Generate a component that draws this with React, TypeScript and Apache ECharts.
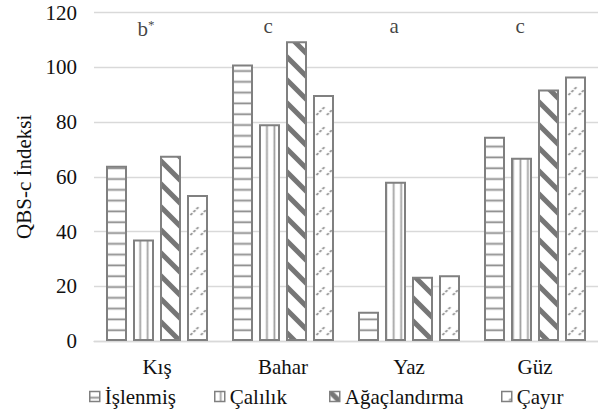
import React, { useEffect, useRef } from 'react';
import * as echarts from 'echarts';

// ---- data ----
const categories = ['Kış', 'Bahar', 'Yaz', 'Güz'];
const seriesNames = ['İşlenmiş', 'Çalılık', 'Ağaçlandırma', 'Çayır'];
const islenmis = [64.0, 101.0, 10.7, 74.6];
const calilik = [37.1, 79.2, 58.2, 66.9];
const agaclandirma = [67.7, 109.5, 23.5, 91.9];
const cayir = [53.3, 89.9, 24.0, 96.6];
const groupLetters = ['b', 'c', 'a', 'c'];
const letterMarks = ['*', '', '', ''];
const letterLevels = [114.0, 115.1, 115.1, 115.1];
const yMin = 0;
const yMax = 120;
const yStep = 20;
const yTitle = 'QBS-c İndeksi';

// ---- layout / style ----
const W = 598;
const H = 411;
const GL = 94;
const GW = 507;
const GT = 12.5;
const GH = 328.5;
const BAR_W = 21;
const BAR_GAP = 6;
const FONT = 'Liberation Serif, Times New Roman, serif';
const TXT = '#111111';
const GRID = '#d9d9d9';
const BORDER = '#808080';
const legendLefts = [89, 214, 329, 501];
const textRich = { t: { fontSize: 21, fontFamily: FONT, color: TXT } };

type Draw = (ctx: CanvasRenderingContext2D, tw: number, th: number) => void;

function tile(tw: number, th: number, draw: Draw) {
  const S = 4;
  const c = document.createElement('canvas');
  c.width = Math.max(1, Math.round(tw * S));
  c.height = Math.max(1, Math.round(th * S));
  const ctx = c.getContext('2d') as CanvasRenderingContext2D;
  ctx.scale(c.width / tw, c.height / th);
  ctx.fillStyle = '#ffffff';
  ctx.fillRect(0, 0, tw, th);
  draw(ctx, tw, th);
  return { image: c.toDataURL(), repeat: 'repeat', imageWidth: tw, imageHeight: th };
}

function mod(a: number, b: number) {
  return ((a % b) + b) % b;
}

function buildPatterns() {
  const baseY = GT + GH;
  const bw = GW / categories.length;
  const groupW = 4 * BAR_W + 3 * BAR_GAP;
  // horizontal lines
  const hTh = 10.8;
  const hOff = mod(baseY, hTh);
  const horiz = tile(4, hTh, (ctx, tw) => {
    ctx.strokeStyle = '#7f7f7f';
    ctx.lineWidth = 1.6;
    for (const y of [hOff - hTh, hOff, hOff + hTh]) {
      ctx.beginPath();
      ctx.moveTo(0, y);
      ctx.lineTo(tw, y);
      ctx.stroke();
    }
  });
  // vertical lines
  const vTw = bw / 17;
  const barLeft = GL + (bw - groupW) / 2 + BAR_W + BAR_GAP;
  const vOff = mod(barLeft + BAR_W / 2 - vTw / 2, vTw);
  const vert = tile(vTw, 4, (ctx, _tw, th) => {
    ctx.strokeStyle = '#9a9a9a';
    ctx.lineWidth = 1.6;
    for (const x of [vOff - vTw, vOff, vOff + vTw]) {
      ctx.beginPath();
      ctx.moveTo(x, 0);
      ctx.lineTo(x, th);
      ctx.stroke();
    }
  });
  // wide downward diagonal
  const P = 23;
  const diag = tile(P, P, (ctx) => {
    ctx.strokeStyle = '#767676';
    ctx.lineWidth = 5;
    for (const k of [-1, 0, 1]) {
      ctx.beginPath();
      ctx.moveTo(-2, -2 + k * P);
      ctx.lineTo(P + 2, P + 2 + k * P);
      ctx.stroke();
    }
  });
  // dashed upward diagonal
  const dash = tile(10.5, 20, (ctx) => {
    ctx.strokeStyle = '#8e8e8e';
    ctx.lineWidth = 1.7;
    ctx.setLineDash([2.6, 1.6]);
    ctx.beginPath();
    ctx.moveTo(1.5, 15);
    ctx.lineTo(9.5, 7);
    ctx.stroke();
  });
  return [horiz, vert, diag, dash];
}

export default function App() {
  const ref = useRef<HTMLDivElement>(null);
  useEffect(() => {
    if (!ref.current) return;
    const chart = echarts.init(ref.current, undefined, { renderer: 'svg', width: W, height: H });
    const patterns = buildPatterns();
    const values = [islenmis, calilik, agaclandirma, cayir];
    const barSeries = seriesNames.map((name, i) => ({
      name,
      type: 'bar',
      data: values[i],
      barWidth: BAR_W,
      barGap: `${(BAR_GAP / BAR_W) * 100}%`,
      itemStyle: { color: patterns[i], borderColor: BORDER, borderWidth: 2 },
      emphasis: { disabled: true },
      silent: true,
    }));
    const letterSeries = {
      name: 'letters',
      type: 'scatter',
      symbolSize: 0,
      silent: true,
      z: 10,
      data: categories.map((_, i) => [i, letterLevels[i]]),
      label: {
        show: true,
        position: 'inside',
        align: 'left',
        offset: [-19.5, 0],
        formatter: (p: any) => {
          const i = p.dataIndex;
          return letterMarks[i] ? `{m|${groupLetters[i]}}{s|${letterMarks[i]}}` : `{m|${groupLetters[i]}}`;
        },
        rich: {
          m: { fontSize: 21, fontFamily: FONT, color: TXT },
          s: { fontSize: 13, fontFamily: FONT, color: TXT, verticalAlign: 'top' },
        },
      },
    };
    chart.setOption({
      animation: false,
      backgroundColor: '#ffffff',
      textStyle: { fontFamily: FONT },
      grid: { left: GL, top: GT, width: GW, height: GH, containLabel: false },
      xAxis: {
        type: 'category',
        data: categories,
        axisTick: { show: false },
        axisLine: { lineStyle: { color: GRID, width: 1.3 } },
        axisLabel: {
          color: TXT,
          fontSize: 21,
          fontFamily: FONT,
          margin: 15,
          formatter: '{t|{value}}',
          rich: textRich,
        },
      },
      yAxis: {
        type: 'value',
        min: yMin,
        max: yMax,
        interval: yStep,
        name: yTitle,
        nameLocation: 'middle',
        nameGap: 58,
        nameTextStyle: { color: TXT, fontSize: 21, fontFamily: FONT },
        axisLine: { show: false },
        axisTick: { show: false },
        axisLabel: {
          color: TXT,
          fontSize: 21,
          fontFamily: FONT,
          margin: 17,
          formatter: '{t|{value}}',
          rich: textRich,
        },
        splitLine: { lineStyle: { color: GRID, width: 1.3 } },
      },
      legend: seriesNames.map((n, i) => ({
        data: [n],
        left: legendLefts[i],
        top: 386,
        padding: 0,
        itemWidth: 10,
        itemHeight: 10,
        selectedMode: false,
        icon: 'rect',
        itemStyle: { borderWidth: 1.5 },
        formatter: '{t|{name}}',
        textStyle: { color: TXT, fontSize: 21, fontFamily: FONT, rich: textRich },
      })),
      series: [...barSeries, letterSeries],
    } as any);
    return () => chart.dispose();
  }, []);
  return (
    <div
      ref={ref}
      style={{ position: 'fixed', left: 0, top: 0, width: W, height: H, background: '#fff' }}
    />
  );
}
